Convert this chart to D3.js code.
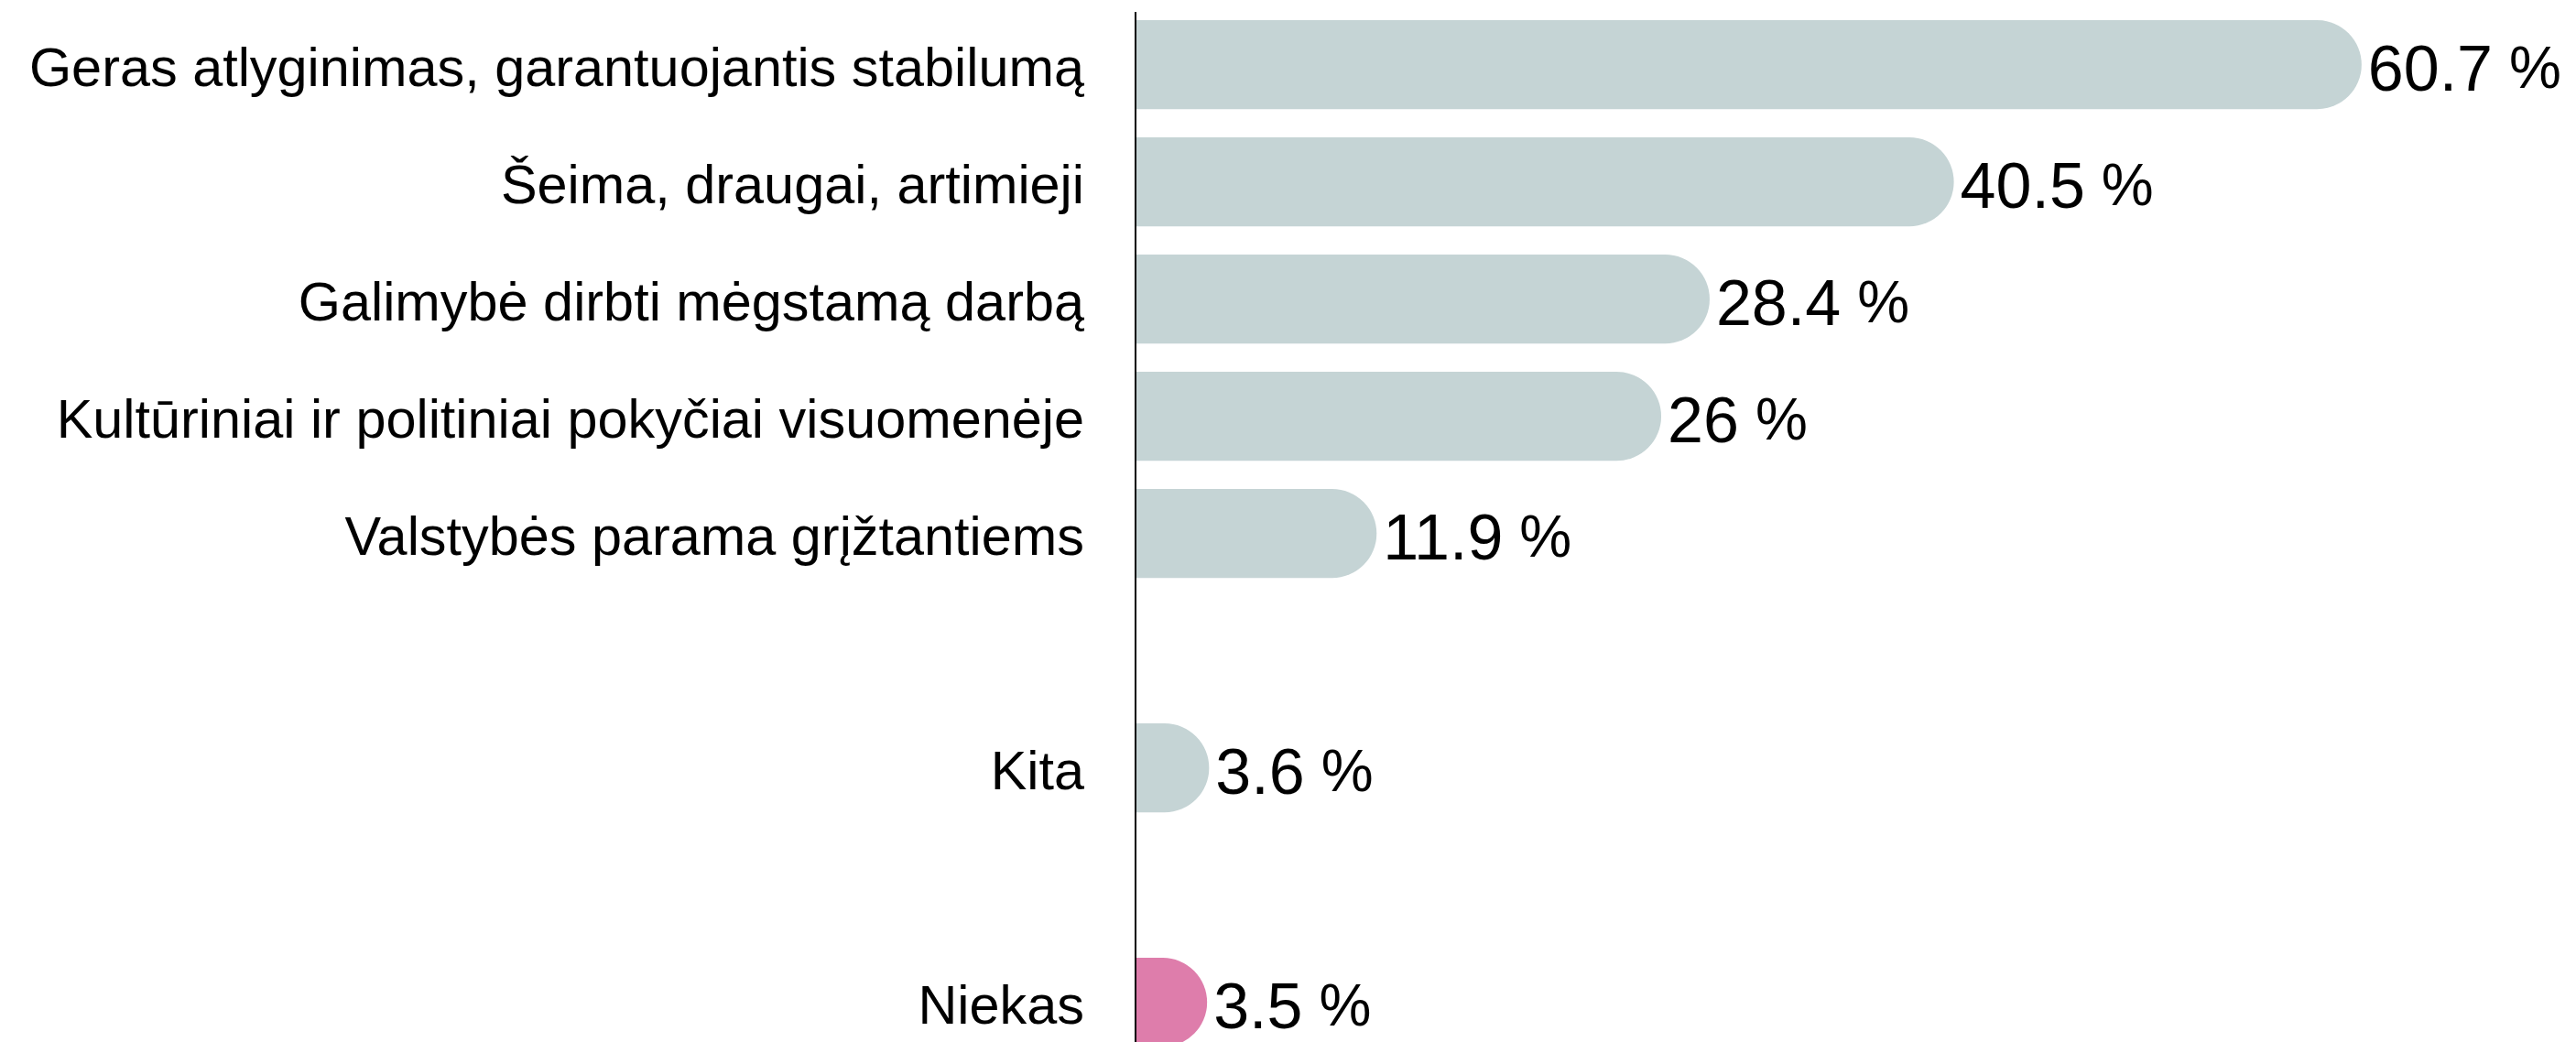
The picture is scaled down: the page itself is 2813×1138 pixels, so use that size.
<!DOCTYPE html>
<html>
<head>
<meta charset="utf-8">
<script src="https://cdn.jsdelivr.net/npm/d3@7"></script>
<style>
  body { margin: 0; background: #fff; }
  svg { display: block; font-family: "Liberation Sans", Arial, Helvetica, sans-serif; }
  .axis--y text { font-size: 59.4px; fill: #000; }
  .value { font-size: 70px; fill: #000; }
</style>
</head>
<body>
<svg width="2813" height="1138"></svg>
<script>
// the answers, in the order of the picture
var categories = [
  "Geras atlyginimas, garantuojantis stabilumą",
  "Šeima, draugai, artimieji",
  "Galimybė dirbti mėgstamą darbą",
  "Kultūriniai ir politiniai pokyčiai visuomenėje",
  "Valstybės parama grįžtantiems",
  "Kita",
  "Niekas"
];
var values = [60.7, 40.5, 28.4, 26, 11.9, 3.6, 3.5];
var valueLabels = ["60.7", "40.5", "28.4", "26", "11.9", "3.6", "3.5"];
// groups are separated by an empty row
var groups = [categories.slice(0, 5), ["Kita"], ["Niekas"]];
var highlighted = ["Niekas"];

var svg = d3.select("svg"),
    margin = {top: 22, left: 1241},
    width = +svg.attr("width"),
    height = +svg.attr("height");

var data = categories.map(function(c, i) {
  return {category: c, value: values[i], label: valueLabels[i]};
});

// building the row domain with the spacer rows in between
var rows = [];
groups.forEach(function(g, i) {
  if (i > 0) rows.push("_gap" + i);
  rows = rows.concat(g);
});

var step = 128;
var y = d3.scaleBand()
    .domain(rows)
    .range([margin.top, margin.top + step * (rows.length - 0.24)])
    .paddingInner(0.24);

var x = d3.scaleLinear()
    .domain([0, 100])
    .range([margin.left, margin.left + 2204]);

// category labels on the left
svg.append("g")
    .attr("class", "axis axis--y")
    .attr("transform", "translate(" + (x(0) - 1) + ",0)")
    .call(d3.axisLeft(y).tickSize(0).tickPadding(56)
      .tickFormat(function(d) { return d.indexOf("_gap") === 0 ? "" : d; }))
    .call(function(g) { g.select(".domain").remove(); })
    .selectAll("text")
      .attr("dy", "0.4em");

// bars with a round right end
function barPath(d) {
  var x0 = x(0), x1 = x(d.value), y0 = y(d.category), h = y.bandwidth(), r = h / 2;
  return "M" + x0 + "," + y0 + "H" + (x1 - r) +
         "A" + r + "," + r + " 0 0 1 " + (x1 - r) + "," + (y0 + h) +
         "H" + x0 + "Z";
}

svg.selectAll(".bar")
  .data(data)
  .enter().append("path")
    .attr("class", "bar")
    .attr("d", barPath)
    .attr("fill", function(d) { return highlighted.indexOf(d.category) >= 0 ? "#de7dab" : "#c5d4d5"; });

// the vertical line
svg.append("line")
    .attr("x1", x(0) - 1)
    .attr("x2", x(0) - 1)
    .attr("y1", 13)
    .attr("y2", height)
    .attr("stroke", "#000")
    .attr("stroke-width", 2);

// value labels
var labels = svg.selectAll(".value")
  .data(data)
  .enter().append("text")
    .attr("class", "value")
    .attr("x", function(d) { return x(d.value) + 7; })
    .attr("y", function(d) { return y(d.category) + y.bandwidth() / 2 + 28; });

labels.append("tspan").text(function(d) { return d.label; });
labels.append("tspan")
    .attr("dx", 18)
    .attr("dy", -3)
    .style("font-size", "64px")
    .text("%");
</script>
</body>
</html>
